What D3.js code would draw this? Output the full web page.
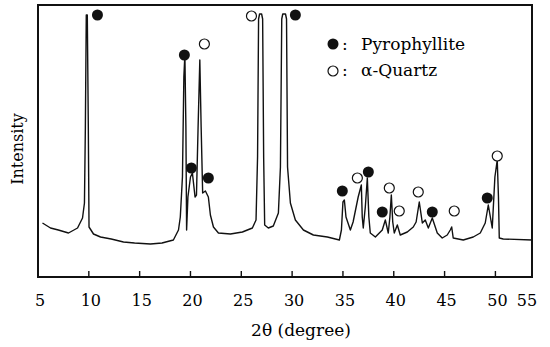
<!DOCTYPE html>
<html>
<head>
<script src="https://cdn.jsdelivr.net/npm/d3@7"></script>
</head>
<body style="margin:0">
<div id="chart"></div>
<script>
// diffraction trace: 2theta (deg) and intensity (arbitrary units)
const twoTheta = [5.44, 6.23, 7.0, 8.0, 8.89, 9.38, 9.57, 9.66, 9.75, 9.85, 9.95, 10.02, 10.46, 11.15, 12.2, 13.41, 14.5, 16.06, 17.2, 18.32, 18.82, 19.0, 19.21, 19.35, 19.45, 19.55, 19.62, 19.75, 20.0, 20.19, 20.45, 20.59, 20.75, 20.92, 21.05, 21.2, 21.47, 21.76, 21.96, 22.26, 22.75, 23.93, 25.11, 26.09, 26.45, 26.6, 26.7, 26.8, 27.0, 27.1, 27.2, 27.3, 27.66, 28.15, 28.65, 28.85, 28.98, 29.08, 29.35, 29.45, 29.55, 29.83, 30.32, 31.11, 32.09, 33.47, 34.65, 34.85, 35.0, 35.14, 35.3, 35.73, 36.0, 36.5, 36.81, 36.9, 37.0, 37.2, 37.4, 37.55, 37.69, 38.19, 38.87, 39.17, 39.46, 39.62, 39.76, 39.9, 40.05, 40.35, 40.64, 41.33, 41.92, 42.2, 42.51, 42.81, 43.1, 43.4, 43.79, 44.28, 44.77, 45.26, 45.56, 45.7, 45.85, 46.84, 47.82, 48.51, 49.0, 49.3, 49.69, 49.95, 50.18, 50.3, 50.38, 50.77, 53.6]
const intensity = [54, 49, 47, 44, 49, 59, 74, 150, 262, 262, 150, 50, 43, 40, 38, 35, 34, 33, 34, 37, 47, 60, 100, 200, 222, 150, 47, 80, 100, 104, 80, 82, 150, 217, 150, 84, 86, 80, 62, 50, 44, 43, 45, 49, 57, 120, 258, 263, 263, 258, 120, 52, 49, 51, 64, 110, 258, 263, 263, 258, 110, 74, 57, 47, 42, 40, 37, 47, 75, 77, 60, 47, 55, 80, 92, 60, 49, 70, 99, 60, 44, 40, 47, 57, 44, 60, 82, 55, 44, 52, 42, 45, 50, 55, 75, 54, 57, 49, 59, 44, 39, 42, 47, 50, 39, 37, 40, 44, 54, 72, 49, 100, 117, 80, 39, 38, 37]

// phase markers
const pyroTheta = [10.85, 19.4, 20.09, 21.76, 30.32, 34.94, 37.5, 38.87, 43.79, 49.2]
const pyroInt = [262, 222, 109, 99, 262, 86, 105, 65, 65, 79]
const quartzTheta = [21.37, 26.0, 36.42, 39.56, 40.54, 42.41, 45.95, 50.18]
const quartzInt = [233, 261, 99, 89, 66, 85, 66, 121]

const xTicks = [5, 10, 15, 20, 25, 30, 35, 40, 45, 50]
const xEndLabel = '55'
const legendNames = ['Pyrophyllite', 'α-Quartz']

const W = 550
const H = 347
const mLeft = 38, mRight = 532, mTop = 5, mBottom = 277
const serif = '"DejaVu Serif", serif'

const x = d3.scaleLinear().domain([5, 53.6]).range([mLeft, mRight])
const y = d3.scaleLinear().domain([0, 272]).range([mBottom, mTop])

const svg = d3.select('#chart')
    .append('svg')
    .attr('width', W)
    .attr('height', H)

// frame as a dark box with a white inside
svg.append('rect')
    .attr('x', mLeft - 1).attr('y', mTop - 1)
    .attr('width', mRight - mLeft + 2).attr('height', mBottom - mTop + 2)
    .attr('fill', '#111')
svg.append('rect')
    .attr('x', mLeft + 1).attr('y', mTop + 1)
    .attr('width', mRight - mLeft - 2).attr('height', mBottom - mTop - 2)
    .attr('fill', '#fff')

const trace = twoTheta.map((t, i) => [t, intensity[i]])
const line = d3.line().x(d => x(d[0])).y(d => y(d[1]))

svg.append('path')
    .datum(trace)
    .attr('d', line)
    .attr('fill', 'none')
    .attr('stroke', '#111')
    .attr('stroke-width', 1.4)
    .attr('stroke-linejoin', 'round')

// inward ticks on the bottom edge
svg.selectAll('.xtick')
    .data(xTicks.slice(1))
    .enter()
    .append('rect')
    .attr('class', 'xtick')
    .attr('x', d => x(d) - 0.7)
    .attr('y', mBottom - 6)
    .attr('width', 1.4)
    .attr('height', 6)
    .attr('fill', '#111')

svg.selectAll('.xlabel')
    .data(xTicks)
    .enter()
    .append('text')
    .attr('class', 'xlabel')
    .attr('x', d => x(d) + 2)
    .attr('y', mBottom + 29)
    .attr('text-anchor', 'middle')
    .attr('font-family', serif)
    .attr('font-size', 16)
    .text(d => d)

svg.append('text')
    .attr('x', mRight - 5)
    .attr('y', mBottom + 29)
    .attr('text-anchor', 'middle')
    .attr('font-family', serif)
    .attr('font-size', 16)
    .text(xEndLabel)

svg.append('text')
    .attr('x', 301)
    .attr('y', 336)
    .attr('text-anchor', 'middle')
    .attr('font-family', serif)
    .attr('font-size', 17)
    .text('2θ  (degree)')

svg.append('text')
    .attr('transform', 'translate(23, 149) rotate(-90)')
    .attr('text-anchor', 'middle')
    .attr('font-family', serif)
    .attr('font-size', 16)
    .text('Intensity')

// peak markers
svg.selectAll('.pyro')
    .data(pyroTheta)
    .enter()
    .append('circle')
    .attr('class', 'pyro')
    .attr('cx', d => x(d))
    .attr('cy', (d, i) => y(pyroInt[i]))
    .attr('r', 5.5)
    .attr('fill', '#111')

svg.selectAll('.quartz')
    .data(quartzTheta)
    .enter()
    .append('circle')
    .attr('class', 'quartz')
    .attr('cx', d => x(d))
    .attr('cy', (d, i) => y(quartzInt[i]))
    .attr('r', 5)
    .attr('fill', 'white')
    .attr('stroke', '#111')
    .attr('stroke-width', 1.2)

// legend
const legend = svg.append('g')
legend.selectAll('circle')
    .data(legendNames)
    .enter()
    .append('circle')
    .attr('cx', 333)
    .attr('cy', (d, i) => 44 + i * 27)
    .attr('r', (d, i) => i === 0 ? 5.5 : 5)
    .attr('fill', (d, i) => i === 0 ? '#111' : 'white')
    .attr('stroke', '#111')
    .attr('stroke-width', (d, i) => i === 0 ? 0 : 1.2)
legend.selectAll('.colon')
    .data(legendNames)
    .enter()
    .append('text')
    .attr('class', 'colon')
    .attr('x', 342)
    .attr('y', (d, i) => 50 + i * 26)
    .attr('font-family', serif)
    .attr('font-size', 17)
    .text(':')
legend.selectAll('.name')
    .data(legendNames)
    .enter()
    .append('text')
    .attr('class', 'name')
    .attr('x', 361)
    .attr('y', (d, i) => 50 + i * 26)
    .attr('font-family', serif)
    .attr('font-size', 17)
    .text(d => d)
</script>
</body>
</html>
